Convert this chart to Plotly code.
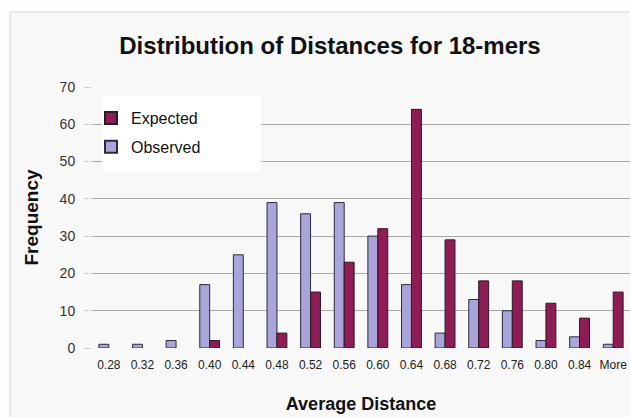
import plotly.graph_objects as go

categories = ["0.28", "0.32", "0.36", "0.40", "0.44", "0.48", "0.52", "0.56",
              "0.60", "0.64", "0.68", "0.72", "0.76", "0.80", "0.84", "More"]
observed = [1, 1, 2, 17, 25, 39, 36, 39, 30, 17, 4, 13, 10, 2, 3, 1]
expected = [0, 0, 0, 2, 0, 4, 15, 23, 32, 64, 29, 18, 18, 12, 8, 15]
y_ticks = [0, 10, 20, 30, 40, 50, 60, 70]

W, H = 630, 417
L, R, T, B = 92, 0, 87, 69
pw, ph = W - L - R, H - T - B

def px(x):
    return (x - L) / pw

def py(y):
    return (H - B - y) / ph

FONT = "Liberation Sans, Arial, sans-serif"

def outline(vals):
    return [1 if v > 0 else 0 for v in vals]

fig = go.Figure()
fig.add_trace(go.Bar(
    x=categories, y=observed, name="Observed", legendrank=2, legendgroup="o",
    marker=dict(color="#A9A4D9", line=dict(color="#2b2b3a", width=outline(observed))),
))
fig.add_trace(go.Bar(
    x=categories, y=expected, name="Expected", legendrank=1, legendgroup="e",
    marker=dict(color="#8E1C55", line=dict(color="#2b1a22", width=outline(expected))),
))

fig.update_layout(
    width=W, height=H,
    margin=dict(l=L, r=R, t=T, b=B),
    paper_bgcolor="#fdfdfd",
    plot_bgcolor="#C8C4C4",
    barmode="group",
    bargap=0.41,
    bargroupgap=0,
    font=dict(family=FONT, color="#222"),
    title=dict(
        text="<b>Distribution of Distances for 18-mers</b>",
        font=dict(size=24, color="#111", family=FONT),
        x=330 / W, xanchor="center",
        y=1 - 46 / H, yanchor="middle",
    ),
    showlegend=True,
    legend=dict(
        x=px(91), y=py(101), xanchor="left", yanchor="top",
        bgcolor="rgba(0,0,0,0)",
        traceorder="grouped",
        tracegroupgap=5,
        font=dict(size=16, color="#111", family=FONT),
        itemsizing="constant",
    ),
    shapes=[
        # outer chart frame
        dict(type="rect", xref="paper", yref="paper",
             x0=px(10), x1=px(640), y0=py(430), y1=py(12),
             line=dict(color="#d6d6d6", width=1), fillcolor="#f8f8f8",
             layer="below"),
        # legend box
        dict(type="rect", xref="paper", yref="paper",
             x0=px(102), x1=px(261), y0=py(171), y1=py(96),
             line=dict(width=0), fillcolor="#ffffff", layer="above"),
    ],
)

fig.update_xaxes(
    type="category",
    showgrid=False,
    ticks="",
    ticklabelstandoff=8,
    tickfont=dict(size=12, color="#222"),
    title=dict(text="<b>Average Distance</b>", font=dict(size=18, color="#111"),
               standoff=26),
    showline=False,
)
fig.update_yaxes(
    range=[0, 70],
    tickvals=y_ticks,
    showgrid=True, gridcolor="#ABA7A7", gridwidth=1,
    ticks="outside", ticklen=7, tickcolor="#d0d0d0",
    ticklabelstandoff=6,
    tickfont=dict(size=14, color="#333"),
    title=dict(text="<b>Frequency</b>", font=dict(size=19, color="#111"),
               standoff=15),
    zeroline=False,
    showline=False,
)

fig.write_html("out.html",
               config={"displayModeBar": False},
               post_script="document.body.style.margin='0';document.body.style.overflow='hidden';")
